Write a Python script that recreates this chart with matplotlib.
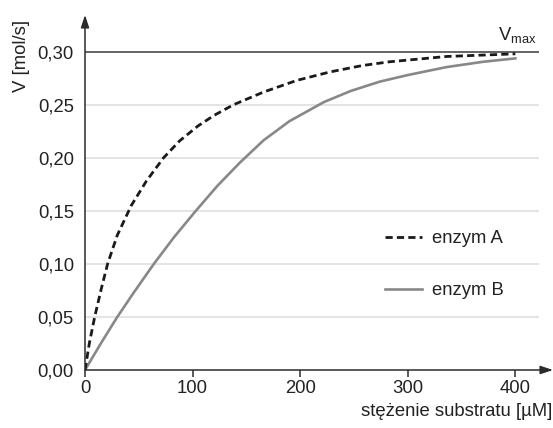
import matplotlib
matplotlib.use("Agg")
import matplotlib.pyplot as plt
import numpy as np

plt.rcParams['font.family'] = ['Liberation Sans', 'DejaVu Sans']

# values
x_a = [0, 4, 9, 15, 21, 30, 43, 57, 73, 88, 105, 120, 138, 166, 197, 228, 258, 283, 336, 400]
v_a = [0, 0.025, 0.05, 0.076, 0.10, 0.127, 0.155, 0.178, 0.20, 0.216, 0.230, 0.240, 0.250,
       0.262, 0.273, 0.281, 0.287, 0.2905, 0.2955, 0.298]
x_b = [0, 15, 30, 45, 64, 83, 103, 123, 144, 166, 190, 222, 247, 274, 300, 336, 370, 400]
v_b = [0, 0.0255, 0.050, 0.0725, 0.10, 0.1255, 0.150, 0.1735, 0.1955, 0.2165, 0.2345, 0.2525,
       0.263, 0.2718, 0.278, 0.2855, 0.2905, 0.2937]
labels = ["enzym A", "enzym B"]
x_ticks = [0, 100, 200, 300, 400]
y_ticks = [0.0, 0.05, 0.10, 0.15, 0.20, 0.25, 0.30]
v_max = 0.30

fs = 13.3
axcol = "#2b2b2b"

fig = plt.figure(figsize=(5.53, 4.28), dpi=100)
ax = fig.add_axes([85/553, 58/428, 468/553, 355/428])
ax.set_xlim(0, 435)
ax.set_ylim(0, 0.3346)

# grid lines and Vmax line
ax.hlines(y_ticks[1:-1], 0, 422, color="#dcdcdc", lw=1.1, zorder=1)
ax.hlines(v_max, 0, 422, color="#3a3a3a", lw=1.1, zorder=2)

ax.plot(x_a, v_a, color="#1a1a1a", lw=2.0, ls=(0, (2.6, 1.5)), label=labels[0], zorder=4)
ax.plot(x_b, v_b, color="#888888", lw=1.9, label=labels[1], zorder=3)

for s in ax.spines.values():
    s.set_visible(False)
ax.annotate('', xy=(1.0, 0), xytext=(0, 0), xycoords='axes fraction',
            arrowprops=dict(arrowstyle='-|>,head_length=0.75,head_width=0.25', color=axcol,
                            lw=1.1, shrinkA=0, shrinkB=0), zorder=5)
ax.annotate('', xy=(0, 1.0), xytext=(0, 0), xycoords='axes fraction',
            arrowprops=dict(arrowstyle='-|>,head_length=0.75,head_width=0.25', color=axcol,
                            lw=1.1, shrinkA=0, shrinkB=0), zorder=5)

ax.set_xticks(x_ticks)
ax.set_xticklabels([str(t) for t in x_ticks], fontsize=fs, color="#222222")
ax.set_yticks(y_ticks)
ax.set_yticklabels([("%.2f" % t).replace('.', ',') for t in y_ticks], fontsize=fs, color="#222222")
ax.tick_params(axis='x', direction='out', length=5, width=1.1, color=axcol, pad=2)
ax.tick_params(axis='y', length=0, pad=8)

fig.text(22/553, 1 - 56/428, "V [mol/s]", rotation=90, fontsize=fs, color="#222222",
         ha='center', va='center')
fig.text(552/553, 1 - 412/428, "stężenie substratu [µM]", fontsize=fs, color="#222222",
         ha='right', va='center')
fig.text(537/553, 1 - 40/428, r"$\mathregular{V_{max}}$", fontsize=fs, color="#222222",
         ha='right', va='baseline')

leg = ax.legend(loc='upper left', bbox_to_anchor=(0.641, 0.394), frameon=False, fontsize=fs,
                handlelength=2.0, handletextpad=0.55, labelspacing=1.9, borderpad=0,
                borderaxespad=0, labelcolor="#222222")

fig.savefig("out.png", dpi=100)
